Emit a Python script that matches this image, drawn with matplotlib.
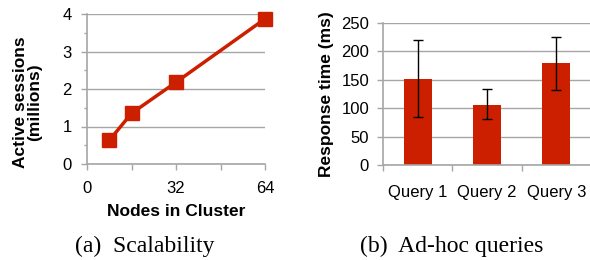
import matplotlib
matplotlib.use("Agg")
import matplotlib.pyplot as plt
from matplotlib.ticker import MultipleLocator

# Data
nodes = [8, 16, 32, 64]
sessions = [0.63, 1.35, 2.18, 3.87]

queries = ["Query 1", "Query 2", "Query 3"]
resp = [152, 106, 179]
err_low = [85, 81, 132]
err_high = [220, 133, 225]

RED = "#CC1F00"
GRID = "#A6A6A6"
SANS = ["Liberation Sans", "DejaVu Sans"]
SERIF = ["Liberation Serif", "DejaVu Serif"]
TICK_FS = 12
LAB_FS = 12.5

fig = plt.figure(figsize=(5.9, 2.6), dpi=100)

# ---- left: scalability
ax1 = fig.add_axes([87/590, 1-164/260, (265-87)/590, (164-14)/260])
ax1.plot(nodes, sessions, color=RED, lw=2.5, marker="s", ms=9.5, clip_on=False, zorder=3)
ax1.set_xlim(0, 64)
ax1.set_ylim(0, 4)
ax1.set_xticks([0, 16, 32, 48, 64])
ax1.set_xticklabels(["0", "", "32", "", "64"])
ax1.yaxis.set_major_locator(MultipleLocator(1))
ax1.yaxis.set_minor_locator(MultipleLocator(0.5))
ax1.grid(axis="y", color=GRID, lw=1)
for s in ["top", "right"]:
    ax1.spines[s].set_visible(False)
for s in ["left", "bottom"]:
    ax1.spines[s].set_color(GRID)
    ax1.spines[s].set_linewidth(1.2)
ax1.tick_params(axis="both", which="major", color=GRID, length=4, width=1, labelsize=TICK_FS)
ax1.tick_params(axis="y", which="major", pad=7)
ax1.tick_params(axis="x", which="major", pad=8)
ax1.tick_params(axis="y", which="minor", color=GRID, length=2.5, width=1)
for lab in ax1.get_xticklabels() + ax1.get_yticklabels():
    lab.set_family(SANS)
ax1.set_xlabel("Nodes in Cluster", fontsize=LAB_FS, fontweight="bold", family=SANS, labelpad=6)
ax1.set_ylabel("Active sessions\n(millions)", fontsize=LAB_FS, fontweight="bold", family=SANS,
                linespacing=0.95)
ax1.yaxis.set_label_coords(-0.253, 0.41)
ax1.set_axisbelow(True)

# ---- right: ad-hoc queries
ax2 = fig.add_axes([383/590, 1-165.3/260, (591-383)/590, (165.3-22.7)/260])
x = list(range(len(queries)))
yerr = [[r - lo for r, lo in zip(resp, err_low)], [hi - r for r, hi in zip(resp, err_high)]]
ax2.bar(x, resp, width=0.4, color=RED, zorder=2)
ax2.errorbar(x, resp, yerr=yerr, fmt="none", ecolor="black", elinewidth=1, capsize=3.5, capthick=1, zorder=3)
ax2.set_xlim(-0.5, 2.5)
ax2.set_ylim(0, 250)
ax2.set_yticks(range(0, 251, 50))
ax2.set_xticks(x)
ax2.set_xticklabels(queries)
ax2.set_xticks([-0.5, 0.5, 1.5, 2.5], minor=True)
ax2.tick_params(axis="x", which="major", length=0, labelsize=TICK_FS, pad=14)
ax2.tick_params(axis="x", which="minor", color=GRID, length=4, width=1)
ax2.tick_params(axis="y", color=GRID, length=4, width=1, labelsize=TICK_FS, pad=6)
ax2.grid(axis="y", color=GRID, lw=1)
ax2.set_axisbelow(True)
for s in ["top", "right"]:
    ax2.spines[s].set_visible(False)
for s in ["left", "bottom"]:
    ax2.spines[s].set_color(GRID)
    ax2.spines[s].set_linewidth(1.2)
for lab in ax2.get_xticklabels() + ax2.get_yticklabels():
    lab.set_family(SANS)
ax2.set_ylabel("Response time (ms)", fontsize=LAB_FS, fontweight="bold", family=SANS, labelpad=5)

# captions
fig.text(145/590, 1-252/260, "(a)  Scalability", ha="center", va="baseline", fontsize=17, family=SERIF)
fig.text(451.5/590, 1-252/260, "(b)  Ad-hoc queries", ha="center", va="baseline", fontsize=17, family=SERIF)

fig.savefig("out.png", dpi=100)
